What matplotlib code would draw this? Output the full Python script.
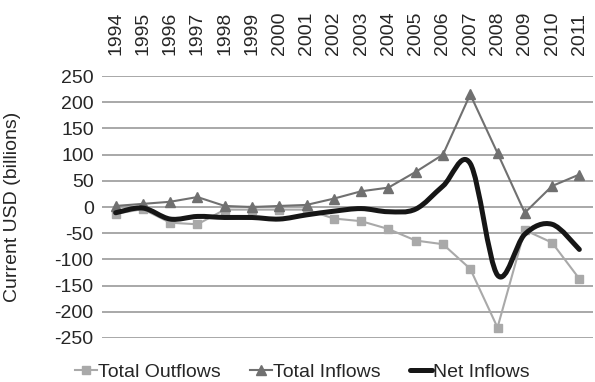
import numpy as np
import matplotlib.pyplot as plt
from matplotlib.path import Path
from matplotlib.patches import PathPatch
from matplotlib.lines import Line2D

plt.rcParams['font.family'] = ['Liberation Sans', 'DejaVu Sans']
plt.rcParams['axes.unicode_minus'] = False

years = [str(y) for y in range(1994, 2012)]
outflows = [-13, -4, -30, -33, -5, -5, -5, -5, -22, -27, -42, -64, -71, -118, -230, -44, -68, -137]
inflows = [2, 6, 10, 19, 2, 0, 2, 4, 16, 30, 37, 67, 100, 215, 103, -11, 40, 62]
net = [-11, -2, -23, -18, -20, -20, -23, -15, -8, -3, -9, -4, 40, 83, -130, -52, -33, -81]

c_out = '#a9a9a9'
c_in = '#707070'
c_net = '#161616'
c_txt = '#262626'
fs = 14

fig = plt.figure(figsize=(5.95, 3.82), dpi=100)
ax = fig.add_axes([0.1714, 0.1152, 0.8252, 0.6858])

x = np.arange(len(years))

ax.plot(x, outflows, color=c_out, lw=1.5, marker='s', ms=6, mec=c_out, mfc=c_out, zorder=3)
ax.plot(x, inflows, color=c_in, lw=1.5, marker='^', ms=7, mec=c_in, mfc=c_in, zorder=4)


def smooth_path(xs, ys, k=1 / 6):
    # bezier segments through every point, like a spreadsheet's smoothed line
    pts = np.column_stack([xs, ys]).astype(float)
    verts = [pts[0]]
    codes = [Path.MOVETO]
    n = len(pts)
    for i in range(n - 1):
        p0 = pts[i - 1] if i > 0 else pts[i]
        p1 = pts[i]
        p2 = pts[i + 1]
        p3 = pts[i + 2] if i + 2 < n else pts[i + 1]
        verts += [p1 + (p2 - p0) * k, p2 - (p3 - p1) * k, p2]
        codes += [Path.CURVE4] * 3
    return Path(verts, codes)


ax.add_patch(PathPatch(smooth_path(x, net), fill=False, ec=c_net, lw=3.6,
                       capstyle='round', joinstyle='round', zorder=5))

ax.set_xlim(-0.5, len(years) - 0.5)
ax.set_ylim(-250, 250)
ax.set_yticks(range(-250, 251, 50))
ax.set_xticks(x)
ax.set_xticklabels(years, rotation=90)
ax.xaxis.tick_top()
ax.tick_params(axis='x', length=0, pad=15, labelsize=fs, colors=c_txt)
ax.tick_params(axis='y', length=0, pad=6, labelsize=fs, colors=c_txt)
ax.grid(axis='y', color='#9a9a9a', lw=1.2)
ax.set_axisbelow(True)
for s in ax.spines.values():
    s.set_visible(False)

ax.set_ylabel('Current USD (billions)', fontsize=fs, color=c_txt)
ax.yaxis.set_label_coords(-0.165, 0.5)

handles = [
    Line2D([], [], color=c_out, lw=1.5, marker='s', ms=6),
    Line2D([], [], color=c_in, lw=1.5, marker='^', ms=7),
    Line2D([], [], color=c_net, lw=3.6, solid_capstyle='round'),
]
fig.legend(handles, ['Total Outflows', 'Total Inflows', 'Net Inflows'],
           loc='center', bbox_to_anchor=(0.508, 0.026), ncol=3, frameon=False,
           fontsize=fs, handlelength=1.15, handletextpad=0.05, columnspacing=1.5,
           labelcolor=c_txt, borderpad=0)

fig.savefig('out.png', dpi=100)
